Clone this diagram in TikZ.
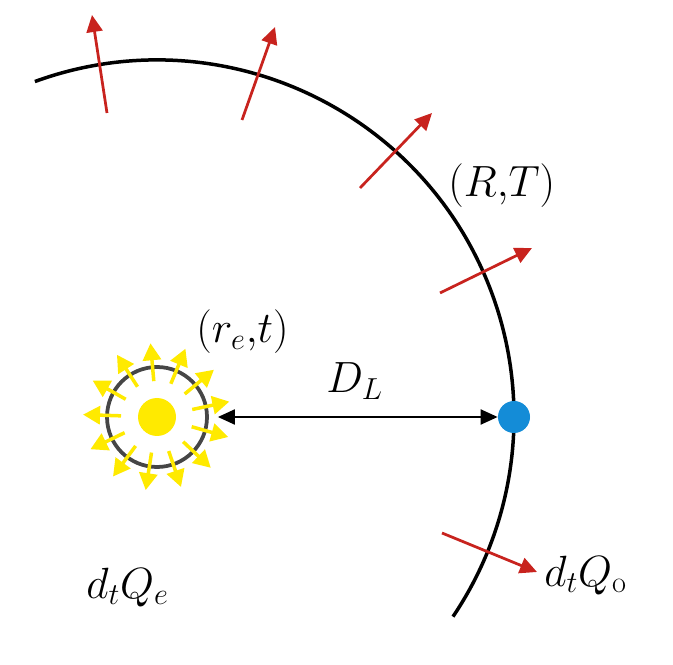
\documentclass[tikz,border=0pt]{standalone}
\usetikzlibrary{arrows.meta}

\definecolor{sun yellow}{RGB}{255,234,0}
\definecolor{flux red}{RGB}{200,35,30}
\definecolor{dot blue}{RGB}{20,140,215}

\begin{document}
\begin{tikzpicture}% coordinates
            \tikzstyle{shell} = [line width=0.07cm]
            \tikzstyle{flux} = [flux red, line width=0.055cm, -{Triangle[length=0.34cm, width=0.32cm]}]
            \tikzstyle{ray} = [sun yellow, line width=0.07cm, -{Triangle[length=0.34cm, width=0.36cm]}]
            \tikzstyle{quantity} = [inner sep=0, anchor=base west, font=\fontsize{24}{28}\selectfont]
            \useasboundingbox (0, 0) rectangle (13.46, 13.28);
            \draw[shell] (3.14, 4.94) ++(110:7.14) arc (110:-34:7.14);
            \draw[flux] (2.14, 11.02) -- (1.84, 12.98);
            \draw[flux] (4.84, 10.88) -- (5.50, 12.74);
            \draw[flux] (7.20, 9.52) -- (8.64, 11.02);
            \draw[flux] (8.80, 7.42) -- (10.64, 8.32);
            \draw[flux] (8.84, 2.62) -- (10.74, 1.84);
            \node[circle, draw=gray!55!black, line width=0.075cm, minimum size=2cm, inner sep=0] (photosphere) at (3.14, 4.94) {};
            \foreach \k in {0, ..., 12} {
                \pgfmathsetmacro\a{12 + \k*360/13}
                \draw[ray] (photosphere.center) ++(\a:0.72) -- ++(\a:0.76);
            }
            \node[circle, fill=sun yellow, minimum size=0.76cm, inner sep=0] (sun) at (3.14, 4.94) {};
            \node[circle, fill=dot blue, minimum size=0.64cm, inner sep=0] (observer) at (10.28, 4.94) {};
            \draw[line width=0.04cm, {Triangle[length=0.34cm, width=0.3cm]}-{Triangle[length=0.34cm, width=0.3cm]}, shorten <=0.18cm] (photosphere) -- (observer);
            \node[quantity] (label RT) at (8.96, 9.34) {\((R,\!T)\)};
            \node[quantity] (label rt) at (3.92, 6.42) {\((r_e,\!t)\)};
            \node[quantity] (label DL) at (6.52, 5.42) {\(D_L\)};
            \node[quantity] (label Qo) at (10.88, 1.56) {\(d_tQ_\mathrm{o}\)};
            \node[quantity] (label Qe) at (1.72, 1.32) {\(d_tQ_e\)};
        \end{tikzpicture}
\end{document}
